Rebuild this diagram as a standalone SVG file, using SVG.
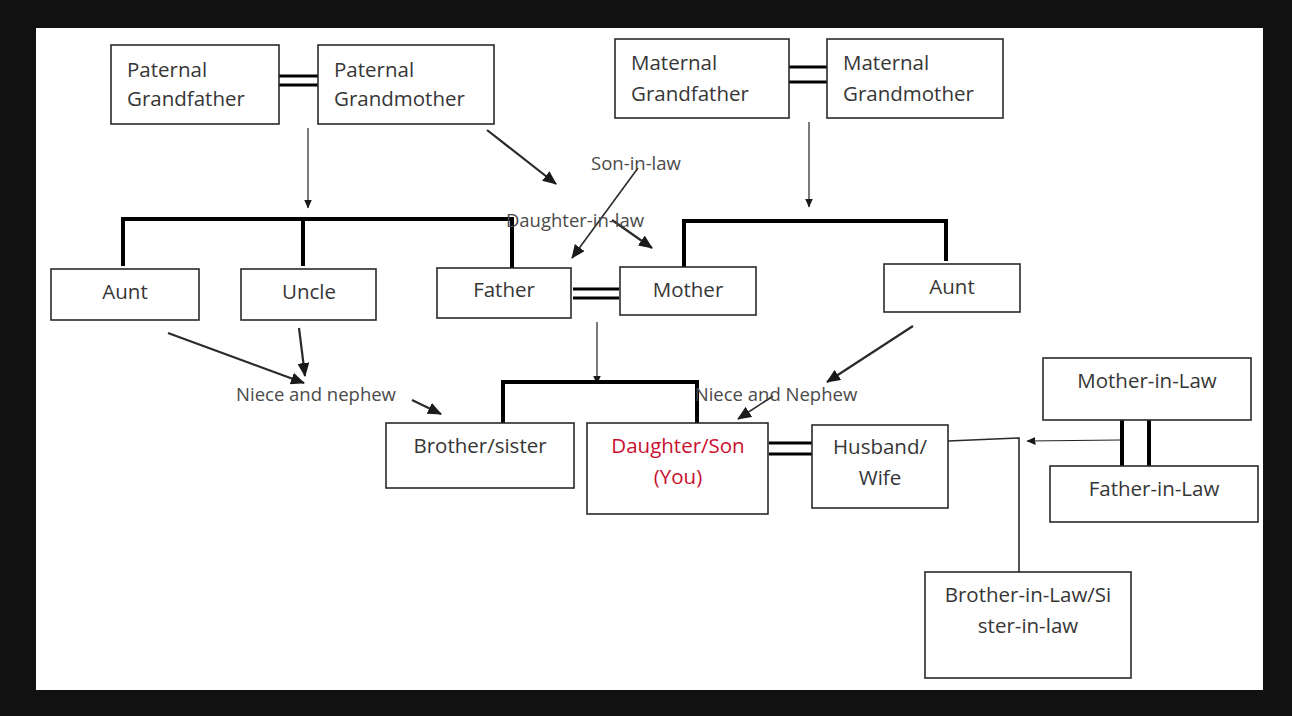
<svg xmlns="http://www.w3.org/2000/svg" width="1292" height="716" viewBox="0 0 1292 716">
<style>
  .box rect{fill:#fff;stroke:#2a2a2a;stroke-width:1.6}
  .t{font-family:"Open Sans","Liberation Sans",sans-serif;font-size:20.5px;fill:#363636}
  .c{text-anchor:middle}
  .red{fill:#c8102e}
  .lbl{font-family:"Open Sans","Liberation Sans",sans-serif;font-size:18.5px;fill:#4a4a4a;text-anchor:middle}
  .thick{fill:none;stroke:#000;stroke-width:4}
  .dbl{fill:none;stroke:#000;stroke-width:3}
  .thin{fill:none;stroke:#222;stroke-width:1.2}
  .arr{fill:none;stroke:#2a2a2a;stroke-width:2.2}
  .mid{fill:none;stroke:#2a2a2a;stroke-width:1.6}
</style>
<defs>
  <marker id="ah" markerUnits="userSpaceOnUse" markerWidth="14" markerHeight="12" refX="13" refY="6" orient="auto">
    <path d="M0,0 L14,6 L0,12 Z" fill="#1a1a1a"/>
  </marker>
  <marker id="ahs" markerUnits="userSpaceOnUse" markerWidth="9" markerHeight="8" refX="8.5" refY="4" orient="auto">
    <path d="M0,0 L9,4 L0,8 Z" fill="#1a1a1a"/>
  </marker>
</defs>
<rect x="0" y="0" width="1292" height="716" fill="#111"/>
<rect x="36" y="28" width="1227" height="662" fill="#fff"/>

<g id="connectors">
  <path class="dbl" d="M275,76 H318 M275,85 H318"/>
  <path class="dbl" d="M789,67 H827 M789,82 H827"/>
  <path class="thin" d="M308,128 V208" marker-end="url(#ahs)"/>
  <path class="thin" d="M809,122 V207" marker-end="url(#ahs)"/>
  <path class="thick" d="M123,266 V219 H512 V268 M303,219 V266"/>
  <path class="thick" d="M684,267 V221 H946 V261"/>
  <path class="arr" d="M487,130 L556,184" marker-end="url(#ah)"/>
  <path class="mid" d="M638,168 L572,258" marker-end="url(#ah)"/>
  <path class="arr" d="M612,220 L652,248" marker-end="url(#ah)"/>
  <path class="dbl" d="M573,289 H619 M573,298 H619"/>
  <path class="thin" d="M597,322 V384" marker-end="url(#ahs)"/>
  <path class="thick" d="M503,423 V382 H697 V423"/>
  <path class="arr" d="M168,333 L304,383" marker-end="url(#ah)"/>
  <path class="arr" d="M299,328 L305,376" marker-end="url(#ah)"/>
  <path class="arr" d="M412,400 L441,414" marker-end="url(#ah)"/>
  <path class="arr" d="M913,326 L827,382" marker-end="url(#ah)"/>
  <path class="mid" d="M773,396 L738,419" marker-end="url(#ah)"/>
  <path class="dbl" d="M769,443 H812 M769,454 H812"/>
  <path class="mid" d="M948,441 L1019,438 V572"/>
  <path class="thin" d="M1120,440 L1027,441" marker-end="url(#ahs)"/>
  <path class="thick" d="M1122,420 V466 M1149,420 V466"/>
</g>

<g id="paternal-grandfather" class="box">
  <rect x="111" y="45" width="168" height="79"/>
  <text class="t" x="127" y="77">Paternal</text>
  <text class="t" x="127" y="106">Grandfather</text>
</g>
<g id="paternal-grandmother" class="box">
  <rect x="318" y="45" width="176" height="79"/>
  <text class="t" x="334" y="77">Paternal</text>
  <text class="t" x="334" y="106">Grandmother</text>
</g>
<g id="maternal-grandfather" class="box">
  <rect x="615" y="39" width="174" height="79"/>
  <text class="t" x="631" y="70">Maternal</text>
  <text class="t" x="631" y="101">Grandfather</text>
</g>
<g id="maternal-grandmother" class="box">
  <rect x="827" y="39" width="176" height="79"/>
  <text class="t" x="843" y="70">Maternal</text>
  <text class="t" x="843" y="101">Grandmother</text>
</g>
<g id="aunt-paternal" class="box">
  <rect x="51" y="269" width="148" height="51"/>
  <text class="t c" x="125" y="299">Aunt</text>
</g>
<g id="uncle" class="box">
  <rect x="241" y="269" width="135" height="51"/>
  <text class="t c" x="309" y="299">Uncle</text>
</g>
<g id="father" class="box">
  <rect x="437" y="268" width="134" height="50"/>
  <text class="t c" x="504" y="297">Father</text>
</g>
<g id="mother" class="box">
  <rect x="620" y="267" width="136" height="48"/>
  <text class="t c" x="688" y="297">Mother</text>
</g>
<g id="aunt-maternal" class="box">
  <rect x="884" y="264" width="136" height="48"/>
  <text class="t c" x="952" y="294">Aunt</text>
</g>
<g id="brother-sister" class="box">
  <rect x="386" y="423" width="188" height="65"/>
  <text class="t c" x="480" y="453">Brother/sister</text>
</g>
<g id="you" class="box">
  <rect x="587" y="423" width="181" height="91"/>
  <text class="t c red" x="678" y="453">Daughter/Son</text>
  <text class="t c red" x="678" y="484">(You)</text>
</g>
<g id="husband-wife" class="box">
  <rect x="812" y="425" width="136" height="83"/>
  <text class="t c" x="880" y="454">Husband/</text>
  <text class="t c" x="880" y="485">Wife</text>
</g>
<g id="mother-in-law" class="box">
  <rect x="1043" y="358" width="208" height="62"/>
  <text class="t c" x="1147" y="388">Mother-in-Law</text>
</g>
<g id="father-in-law" class="box">
  <rect x="1050" y="466" width="208" height="56"/>
  <text class="t c" x="1154" y="496">Father-in-Law</text>
</g>
<g id="brother-sister-in-law" class="box">
  <rect x="925" y="572" width="206" height="106"/>
  <text class="t c" x="1028" y="602">Brother-in-Law/Si</text>
  <text class="t c" x="1028" y="633">ster-in-law</text>
</g>

<g id="labels">
  <text class="lbl" x="636" y="170">Son-in-law</text>
  <text class="lbl" x="575" y="227">Daughter-in-law</text>
  <text class="lbl" x="316" y="401">Niece and nephew</text>
  <text class="lbl" x="776" y="401">Niece and Nephew</text>
</g>
</svg>
